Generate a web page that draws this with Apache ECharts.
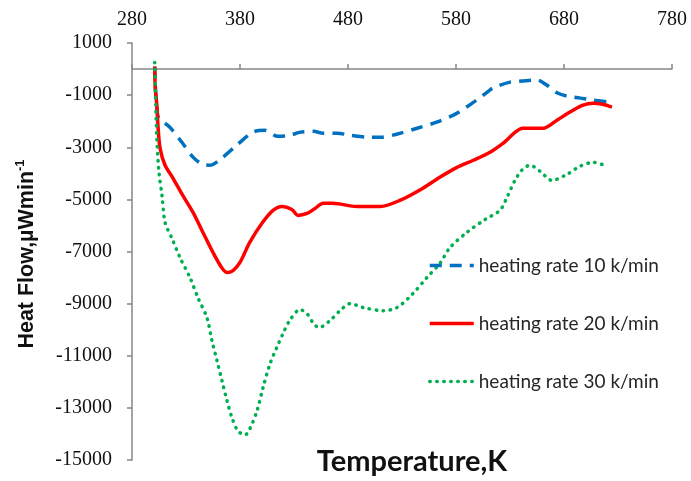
<!DOCTYPE html>
<html><head><meta charset="utf-8">
<script src="https://cdn.jsdelivr.net/npm/echarts@6/dist/echarts.min.js"></script>
<style>html,body{margin:0;padding:0;background:#fff}#c{width:691px;height:481px}</style>
</head><body><div id="c"></div>
<script>
// ---- data ----
const seriesNames = ['heating rate 10 k/min', 'heating rate 20 k/min', 'heating rate 30 k/min'];
const xTickValues = [280, 380, 480, 580, 680, 780];
const yTickValues = [1000, -1000, -3000, -5000, -7000, -9000, -11000, -13000, -15000];
const xTitle = 'Temperature,K';
const yTitle = 'Heat Flow,µWmin';
const yTitleSup = '-1';

const temp10 = [301, 302, 303.5, 305, 315, 326, 336.5, 345, 352, 363, 377, 392, 403, 415, 426, 436, 448, 457, 470, 482, 500, 510, 525, 544, 562, 581, 599, 609, 614, 630, 641, 655, 664, 674, 683, 695, 707, 723];
const flow10 = [100, -1000, -1700, -1900, -2230, -2800, -3380, -3650, -3690, -3420, -2920, -2420, -2350, -2580, -2540, -2420, -2390, -2460, -2460, -2540, -2615, -2615, -2500, -2270, -2040, -1690, -1190, -885, -730, -500, -460, -420, -615, -920, -1040, -1115, -1190, -1270];

const temp20 = [301, 301.5, 303, 304, 306, 310.6, 318, 327, 336.5, 345.7, 355, 363, 368, 373.5, 380, 389, 401, 410.6, 419, 428, 433.7, 442, 449.4, 457, 466, 488, 510, 528, 549, 565, 581, 596, 611.5, 623.5, 642, 660.6, 673.5, 685.6, 697.6, 707, 716, 724.4];
const flow20 = [100, -700, -1385, -2150, -3040, -3690, -4190, -4850, -5500, -6270, -7040, -7615, -7810, -7730, -7420, -6650, -5880, -5420, -5270, -5385, -5615, -5540, -5350, -5150, -5150, -5270, -5270, -5040, -4580, -4150, -3770, -3500, -3190, -2850, -2270, -2270, -1960, -1650, -1385, -1310, -1350, -1460];

const temp30 = [301, 302, 303, 305, 307.8, 310.6, 317, 324.4, 333.7, 341, 349.4, 354, 358.7, 363.3, 368, 372.6, 378, 384.6, 389, 395.7, 401.3, 407.8, 414, 419.8, 426, 435.6, 442, 447.6, 453, 463.3, 472.6, 482, 494, 512.4, 525.4, 540, 553, 565, 574.4, 590, 607, 620.7, 628, 634.6, 641, 648.5, 657.8, 668.9, 682.8, 694.8, 707, 720];
const flow30 = [250, -1385, -2650, -3960, -4850, -5880, -6500, -7230, -8000, -8770, -9540, -10420, -11190, -11960, -12730, -13380, -13880, -14040, -13810, -13120, -12230, -11310, -10690, -10150, -9650, -9230, -9385, -9730, -9920, -9650, -9270, -9000, -9150, -9270, -9150, -8620, -8000, -7460, -6850, -6270, -5770, -5420, -4850, -4270, -3880, -3690, -3920, -4270, -4040, -3730, -3580, -3730];

// ---- chart ----
const pairs = (xs, ys) => xs.map((x, i) => [x, ys[i]]);
const serifFont = '"Liberation Serif", "Times New Roman", serif';
const sansFont = 'Lato, "Open Sans", sans-serif';
const axisGray = '#868686';

const chart = echarts.init(document.getElementById('c'), null, { renderer: 'canvas' });
chart.setOption({
  animation: false,
  backgroundColor: '#ffffff',
  grid: { left: 132, right: 19, top: 43, bottom: 21, containLabel: false },
  xAxis: [
    {
      type: 'value', position: 'top',
      min: xTickValues[0], max: xTickValues[xTickValues.length - 1], interval: 100,
      axisLine: { show: false, onZero: false },
      axisTick: { show: false },
      splitLine: { show: false },
      axisLabel: { margin: 13, fontFamily: serifFont, fontSize: 20, color: '#111', formatter: v => String(v) }
    },
    {
      type: 'value', position: 'top',
      min: xTickValues[0], max: xTickValues[xTickValues.length - 1], interval: 100,
      axisLine: { show: true, onZero: true, lineStyle: { color: axisGray, width: 1.5 } },
      axisTick: { show: true, length: 5, lineStyle: { color: axisGray, width: 1.5 } },
      splitLine: { show: false },
      axisLabel: { show: false }
    }
  ],
  yAxis: {
    type: 'value',
    min: yTickValues[yTickValues.length - 1], max: yTickValues[0],
    axisLine: { show: true, onZero: false, lineStyle: { color: axisGray, width: 1.5 } },
    axisTick: { show: true, length: 5, customValues: yTickValues, lineStyle: { color: axisGray, width: 1.5 } },
    axisLabel: { customValues: yTickValues, margin: 20, fontFamily: serifFont, fontSize: 20, color: '#111', formatter: v => String(v) },
    splitLine: { show: false }
  },
  legend: {
    orient: 'vertical', left: 428, top: 256, padding: 0,
    itemWidth: 44, itemHeight: 14, itemGap: 39,
    itemStyle: { opacity: 0 },
    lineStyle: { width: 3.5 },
    textStyle: { fontFamily: sansFont, fontSize: 19, color: '#262626' },
    data: seriesNames
  },
  graphic: [
    {
      type: 'text', x: 412, y: 462,
      style: { text: xTitle, font: 'bold 29px ' + sansFont, fill: '#111', align: 'center', verticalAlign: 'middle' }
    },
    {
      type: 'text', x: 27, y: 254, rotation: Math.PI / 2,
      style: {
        text: '{a|' + yTitle + '}{b|' + yTitleSup + '}',
        align: 'center', verticalAlign: 'middle',
        rich: {
          a: { fontFamily: '"Liberation Sans", Arial, sans-serif', fontWeight: 'bold', fontSize: 21.5, fill: '#111', lineHeight: 26 },
          b: { fontFamily: '"Liberation Sans", Arial, sans-serif', fontWeight: 'bold', fontSize: 13, fill: '#111', verticalAlign: 'top', lineHeight: 13 }
        }
      }
    }
  ],
  series: [
    {
      name: seriesNames[0], type: 'line', xAxisIndex: 0, data: pairs(temp10, flow10),
      symbol: 'none', showSymbol: false, smooth: 0.3,
      lineStyle: { color: '#0070C0', width: 3.5, type: [12, 8] },
      itemStyle: { color: '#0070C0' }
    },
    {
      name: seriesNames[1], type: 'line', xAxisIndex: 0, data: pairs(temp20, flow20),
      symbol: 'none', showSymbol: false, smooth: 0.3,
      lineStyle: { color: '#FF0000', width: 3.5, type: 'solid' },
      itemStyle: { color: '#FF0000' }
    },
    {
      name: seriesNames[2], type: 'line', xAxisIndex: 0, data: pairs(temp30, flow30),
      symbol: 'none', showSymbol: false, smooth: 0.3,
      lineStyle: { color: '#00B050', width: 3.5, type: [0.5, 6.5], cap: 'round' },
      itemStyle: { color: '#00B050' }
    }
  ]
});
</script>
</body></html>
